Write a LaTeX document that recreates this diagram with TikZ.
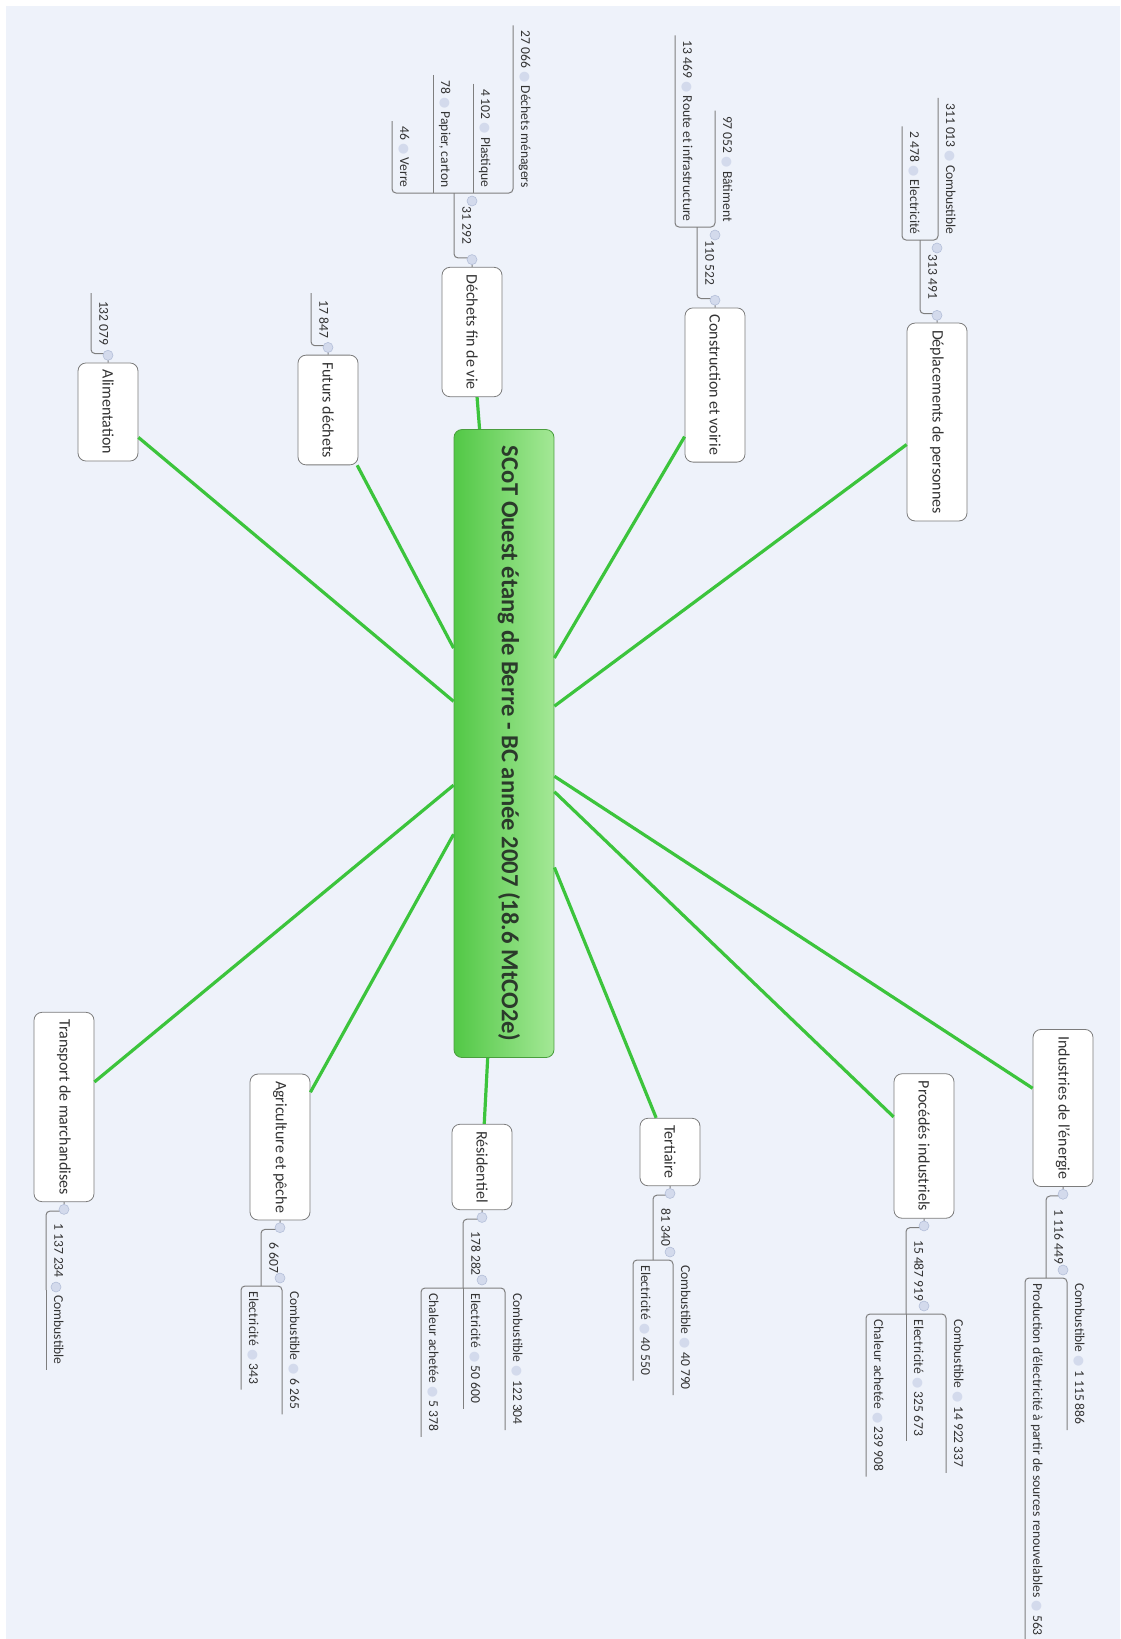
\documentclass[tikz,border=0pt]{standalone}
\usepackage{fontspec}
\setmainfont{Carlito}
\newfontfamily\symfont{DejaVu Sans}
\usetikzlibrary{positioning}

\definecolor{paper}{HTML}{EEF2FA}
\definecolor{linkgreen}{HTML}{3CC43C}
\definecolor{hubtop}{HTML}{A4E896}
\definecolor{hubmid}{HTML}{64D458}
\definecolor{hubbot}{HTML}{52C846}
\definecolor{hubedge}{HTML}{4A9E3E}
\definecolor{boxedge}{HTML}{7C7C7C}
\definecolor{twiggray}{HTML}{7E7E7E}
\definecolor{btnfill}{HTML}{D3DAEC}
\definecolor{btnedge}{HTML}{B4BFD9}
\definecolor{ink}{HTML}{333333}
\definecolor{hubink}{HTML}{2B3A2B}

\newcommand{\knob}{{\symfont\fontsize{6.5}{6.5}\selectfont\textcolor{btnfill}{●}}}

\tikzset{
  hub/.style={rectangle, rounded corners=4pt, draw=hubedge, left color=hubbot,
    middle color=hubmid, right color=hubtop, minimum width=314pt, minimum height=50pt,
    font=\fontsize{12.3}{14}\selectfont\bfseries, text=hubink},
  topic/.style={rectangle, rounded corners=4pt, draw=boxedge, fill=white,
    minimum height=30pt, inner xsep=3.5pt, font=\fontsize{8}{10}\selectfont, text=ink},
  leaf/.style={inner xsep=2.5pt, inner ysep=2pt, text height=1.5ex, text depth=.4ex,
    font=\fontsize{6.8}{8}\selectfont, text=ink},
  leafl/.style={leaf, anchor=south east},
  leafr/.style={leaf, anchor=south west},
  link/.style={draw=linkgreen, line width=1.6pt},
  twig/.style={draw=twiggray, line width=.5pt, rounded corners=2pt},
  knob/.style={circle, fill=btnfill, draw=btnedge, line width=.3pt,
    minimum size=5pt, inner sep=0pt}
}

\begin{document}
\begin{tikzpicture}[x=0.5pt, y=0.5pt]
\useasboundingbox (0,0) rectangle (1120,-1639);
\begin{scope}[rotate=-90, transform shape]
\fill[paper] (6,6) rectangle (1639,1120);

% central topic
\node[hub] (hub) at (743.5,504) {\raisebox{7pt}{SCoT Ouest étang de Berre - BC année 2007 (18.6 MtCO2e)}};

% main topics, left side
\node[topic] (dp) at (422,937) {Déplacements de personnes};
\node[topic] (cv) at (385,715) {Construction et voirie};
\node[topic] (df) at (332,472) {Déchets fin de vie};
\node[topic] (fd) at (410,328) {Futurs déchets};
\node[topic] (al) at (412,108) {Alimentation};
% main topics, right side
\node[topic] (ie) at (1108,1063) {Industries de l'énergie};
\node[topic] (pi) at (1146,924) {Procédés industriels};
\node[topic] (te) at (1152,670) {Tertiaire};
\node[topic] (re) at (1167,482) {Résidentiel};
\node[topic] (ag) at (1147,280) {Agriculture et pêche};
\node[topic] (tm) at (1107,64) {Transport de marchandises};

\foreach \t in {dp,cv,df,fd,al,ie,pi,te,re,ag,tm}
  \draw[link] (hub) -- (\t);

% Deplacements de personnes
\coordinate (dpJ) at (240,920);
\draw[twig] (dp.west) -- ++(-9,0) |- node[pos=.75, leaf, above] (dpv) {313 491} (dpJ);
\node[leafl] (dpc1) at (240,938) {311 013 \knob{} Combustible};
\node[leafl] (dpc2) at (240,902) {2 478 \knob{} Electricité};
\draw[twig] (dpc1.south west) -- (dpc1.south east) -- (dpc2.south east) -- (dpc2.south west);
\node[knob, left=1pt of dp] (dpk1) {};
\node[knob] (dpk2) at (248,937) {};

% Construction et voirie
\coordinate (cvJ) at (227,697);
\draw[twig] (cv.west) -- ++(-9,0) |- node[pos=.75, leaf, above] (cvv) {110 522} (cvJ);
\node[leafl] (cvc1) at (227,715) {97 052 \knob{} Bâtiment};
\node[leafl] (cvc2) at (227,675) {13 469 \knob{} Route et infrastructure};
\draw[twig] (cvc1.south west) -- (cvc1.south east) -- (cvc2.south east) -- (cvc2.south west);
\node[knob, left=1pt of cv] (cvk1) {};
\node[knob] (cvk2) at (235,715) {};

% Dechets fin de vie
\coordinate (dfJ) at (193,454);
\draw[twig] (df.west) -- ++(-9,0) |- node[pos=.75, leaf, above] (dfv) {31 292} (dfJ);
\node[leafl] (dfc1) at (193,513) {27 066 \knob{} Déchets ménagers};
\node[leafl] (dfc2) at (193,473) {4 102 \knob{} Plastique};
\node[leafl] (dfc3) at (193,433) {78 \knob{} Papier, carton};
\node[leafl] (dfc4) at (193,392) {46 \knob{} Verre};
\draw[twig] (dfc1.south west) -- (dfc1.south east) -- (dfc4.south east) -- (dfc4.south west);
\draw[twig] (dfc2.south west) -- (dfc2.south east);
\draw[twig] (dfc3.south west) -- (dfc3.south east);
\node[knob, left=1pt of df] (dfk1) {};
\node[knob] (dfk2) at (201,472) {};

% Futurs dechets
\coordinate (fdE) at (293,311);
\draw[twig] (fd.west) -- ++(-9,0) |- node[pos=.75, leaf, above] (fdv) {17 847} (fdE);
\node[knob, left=1pt of fd] (fdk1) {};

% Alimentation
\coordinate (alE) at (293,91);
\draw[twig] (al.west) -- ++(-9,0) |- node[pos=.75, leaf, above] (alv) {132 079} (alE);
\node[knob, left=1pt of al] (alk1) {};

% Industries de l'energie
\coordinate (ieJ) at (1278,1046);
\draw[twig] (ie.east) -- ++(9,0) |- node[pos=.75, leaf, above] (iev) {1 116 449} (ieJ);
\node[leafr] (iec1) at (1278,1067) {Combustible \knob{} 1 115 886};
\node[leafr] (iec2) at (1278,1025) {Production d'électricité à partir de sources renouvelables \knob{} 563};
\draw[twig] (iec1.south east) -- (iec1.south west) -- (iec2.south west) -- (iec2.south east);
\node[knob, right=1pt of ie] (iek1) {};
\node[knob] (iek2) at (1270,1063) {};

% Procedes industriels
\coordinate (piJ) at (1314,906);
\draw[twig] (pi.east) -- ++(9,0) |- node[pos=.75, leaf, above] (piv) {15 487 919} (piJ);
\node[leafr] (pic1) at (1314,946) {Combustible \knob{} 14 922 337};
\node[leafr] (pic2) at (1314,906) {Electricité \knob{} 325 673};
\node[leafr] (pic3) at (1314,866) {Chaleur achetée \knob{} 239 908};
\draw[twig] (pic1.south east) -- (pic1.south west) -- (pic3.south west) -- (pic3.south east);
\draw[twig] (pic2.south west) -- (pic2.south east);
\node[knob, right=1pt of pi] (pik1) {};
\node[knob] (pik2) at (1306,924) {};

% Tertiaire
\coordinate (teJ) at (1260,653);
\draw[twig] (te.east) -- ++(9,0) |- node[pos=.75, leaf, above] (tev) {81 340} (teJ);
\node[leafr] (tec1) at (1260,673) {Combustible \knob{} 40 790};
\node[leafr] (tec2) at (1260,633) {Electricité \knob{} 40 550};
\draw[twig] (tec1.south east) -- (tec1.south west) -- (tec2.south west) -- (tec2.south east);
\node[knob, right=1pt of te] (tek1) {};
\node[knob] (tek2) at (1252,670) {};

% Residentiel
\coordinate (reJ) at (1288,463);
\draw[twig] (re.east) -- ++(9,0) |- node[pos=.75, leaf, above] (rev) {178 282} (reJ);
\node[leafr] (rec1) at (1288,505) {Combustible \knob{} 122 304};
\node[leafr] (rec2) at (1288,463) {Electricité \knob{} 50 600};
\node[leafr] (rec3) at (1288,421) {Chaleur achetée \knob{} 5 378};
\draw[twig] (rec1.south east) -- (rec1.south west) -- (rec3.south west) -- (rec3.south east);
\draw[twig] (rec2.south west) -- (rec2.south east);
\node[knob, right=1pt of re] (rek1) {};
\node[knob] (rek2) at (1280,482) {};

% Agriculture et peche
\coordinate (agJ) at (1286,261);
\draw[twig] (ag.east) -- ++(9,0) |- node[pos=.75, leaf, above] (agv) {6 607} (agJ);
\node[leafr] (agc1) at (1286,282) {Combustible \knob{} 6 265};
\node[leafr] (agc2) at (1286,241) {Electricité \knob{} 343};
\draw[twig] (agc1.south east) -- (agc1.south west) -- (agc2.south west) -- (agc2.south east);
\node[knob, right=1pt of ag] (agk1) {};
\node[knob] (agk2) at (1278,280) {};

% Transport de marchandises
\coordinate (tmJ) at (1290,46);
\draw[twig] (tm.east) -- ++(9,0) |- node[pos=.75, leaf, above] (tmv) {1 137 234} (tmJ);
\node[leafr] (tmc1) at (1290,46) {Combustible};
\draw[twig] (tmc1.south west) -- (tmc1.south east);
\node[knob, right=1pt of tm] (tmk1) {};
\node[knob] (tmk2) at (1287,56) {};
\end{scope}
\end{tikzpicture}
\end{document}
